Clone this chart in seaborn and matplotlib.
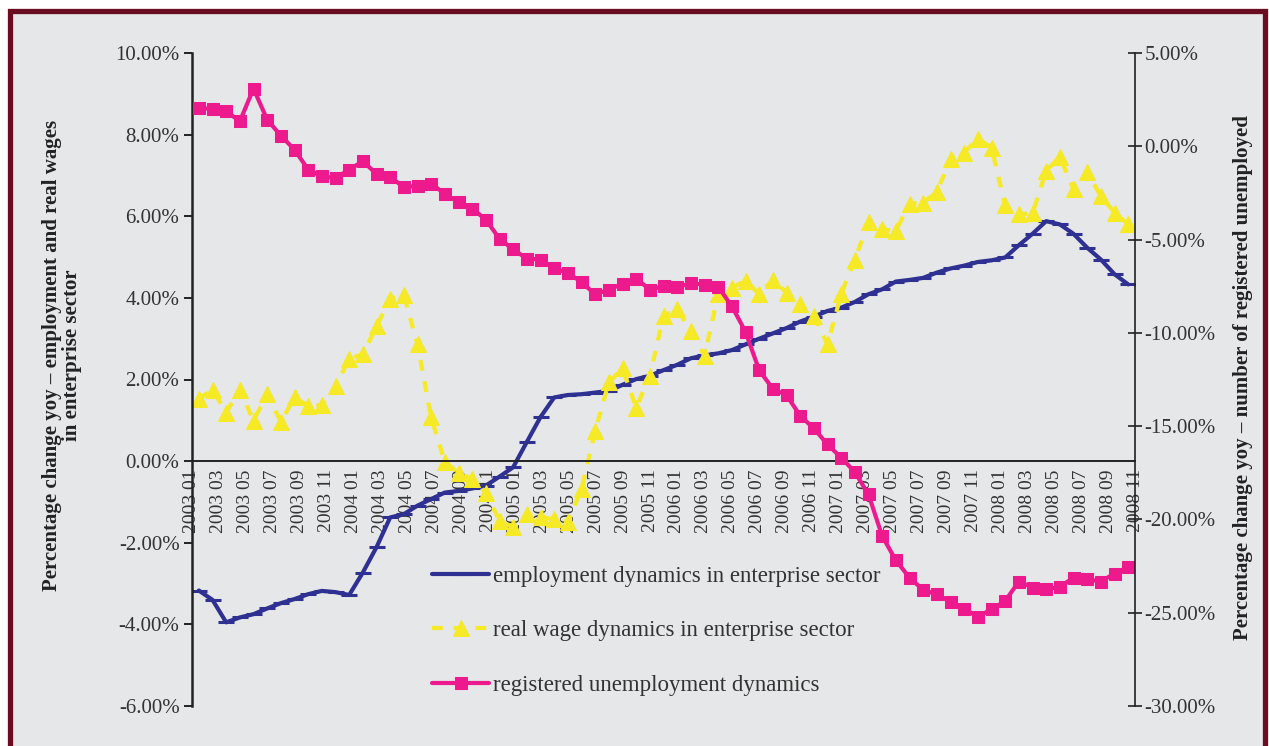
import numpy as np
import pandas as pd
import matplotlib
matplotlib.use("Agg")
import matplotlib.pyplot as plt
from matplotlib.patches import Rectangle
from matplotlib.ticker import FixedLocator, PercentFormatter
import seaborn as sns

# x-axis labels (every second month)
tick_labels = ["2003 01", "2003 03", "2003 05", "2003 07", "2003 09", "2003 11",
               "2004 01", "2004 03", "2004 05", "2004 07", "2004 09", "2004 11",
               "2005 01", "2005 03", "2005 05", "2005 07", "2005 09", "2005 11",
               "2006 01", "2006 03", "2006 05", "2006 07", "2006 09", "2006 11",
               "2007 01", "2007 03", "2007 05", "2007 07", "2007 09", "2007 11",
               "2008 01", "2008 03", "2008 05", "2008 07", "2008 09", "2008 11"]

# employment dynamics in enterprise sector (left axis, %)
employment = [-3.17, -3.40, -3.95, -3.83, -3.75, -3.61, -3.48, -3.38, -3.26, -3.18, -3.21, -3.28,
              -2.73, -2.11, -1.38, -1.30, -1.09, -0.93, -0.77, -0.73, -0.67, -0.60, -0.38, -0.15,
              0.47, 1.08, 1.56, 1.62, 1.64, 1.68, 1.72, 1.87, 2.01, 2.09, 2.23, 2.36,
              2.52, 2.59, 2.64, 2.72, 2.86, 3.00, 3.13, 3.26, 3.42, 3.54, 3.68, 3.76,
              3.90, 4.09, 4.21, 4.40, 4.44, 4.49, 4.62, 4.72, 4.79, 4.88, 4.92, 4.99,
              5.29, 5.57, 5.88, 5.80, 5.57, 5.23, 4.94, 4.58, 4.33]

# real wage dynamics in enterprise sector (left axis, %)
real_wages = [1.53, 1.75, 1.19, 1.75, 0.99, 1.64, 0.96, 1.56, 1.35, 1.37, 1.83, 2.51,
              2.62, 3.30, 3.98, 4.06, 2.86, 1.07, -0.03, -0.28, -0.44, -0.77, -1.46, -1.62,
              -1.30, -1.38, -1.42, -1.49, -0.69, 0.74, 1.93, 2.27, 1.31, 2.09, 3.56, 3.72,
              3.19, 2.58, 4.09, 4.25, 4.42, 4.09, 4.44, 4.13, 3.84, 3.56, 2.86, 4.09,
              4.94, 5.86, 5.68, 5.64, 6.31, 6.33, 6.59, 7.41, 7.56, 7.90, 7.68, 6.27,
              6.05, 6.07, 7.11, 7.46, 6.66, 7.08, 6.49, 6.09, 5.80]

# registered unemployment dynamics (right axis, %)
unemployment = [2.06, 2.00, 1.88, 1.34, 3.09, 1.43, 0.57, -0.18, -1.25, -1.61, -1.70, -1.25,
                -0.80, -1.48, -1.64, -2.19, -2.11, -2.00, -2.55, -3.00, -3.34, -3.93, -4.96, -5.53,
                -6.02, -6.07, -6.52, -6.79, -7.28, -7.94, -7.68, -7.37, -7.09, -7.68, -7.50, -7.55,
                -7.35, -7.41, -7.53, -8.57, -9.94, -12.00, -13.00, -13.34, -14.44, -15.12, -15.98, -16.69,
                -17.46, -18.66, -20.89, -22.19, -23.12, -23.78, -24.01, -24.42, -24.78, -25.21, -24.82, -24.37,
                -23.33, -23.65, -23.74, -23.62, -23.12, -23.21, -23.33, -22.90, -22.55]

n = len(employment)
df = pd.DataFrame({"pos": np.arange(n) + 0.5,
                   "employment": employment,
                   "wages": real_wages,
                   "unemployment": unemployment})

sns.set_style("white")
plt.rcParams["font.family"] = ["Liberation Serif", "DejaVu Serif"]
plt.rcParams["axes.unicode_minus"] = False

W, H = 1269, 746
fig = plt.figure(figsize=(W / 100, H / 100), dpi=100)
fig.patch.set_facecolor("white")

# grey panel with maroon frame
fig.add_artist(Rectangle((9.5 / W, -0.1), (1265 - 9.5) / W, 1.1 - 10.5 / H,
                         transform=fig.transFigure, facecolor="#e6e7e8",
                         edgecolor="#6b0d20", linewidth=3.8, zorder=-10))

ax = fig.add_axes([192 / W, 40 / H, 943 / W, 653 / H])
ax.set_facecolor("none")
ax2 = ax.twinx()
ax2.set_facecolor("none")

blue = "#2e3192"
yellow = "#f6e925"
pink = "#ec1a8c"

sns.lineplot(data=df, x="pos", y="employment", ax=ax, color=blue, linewidth=3,
             marker="_", markersize=12, markeredgewidth=2.2, markeredgecolor=blue,
             label="employment dynamics in enterprise sector")
sns.lineplot(data=df, x="pos", y="wages", ax=ax, color=yellow, linewidth=3,
             linestyle="--", marker="^", markersize=11, markeredgecolor=yellow,
             label="real wage dynamics in enterprise sector")
ax.lines[-1].set_dashes([2.6, 2.6])
sns.lineplot(data=df, x="pos", y="unemployment", ax=ax2, color=pink, linewidth=3,
             marker="s", markersize=8.5, markeredgecolor=pink,
             label="registered unemployment dynamics")

ax.set_xlim(0, n)
ax.set_ylim(-6, 10)
ax2.set_ylim(-30, 5)

# y axes
ax.set_yticks(np.arange(-6, 11, 2))
ax.yaxis.set_major_formatter(PercentFormatter(decimals=2))
ax2.set_yticks(np.arange(-30, 6, 5))
ax2.yaxis.set_major_formatter(PercentFormatter(decimals=2))
ax.tick_params(axis="y", direction="out", length=6, width=1.4, labelsize=15, pad=3)
ax2.tick_params(axis="y", direction="inout", length=10, width=1.2, labelsize=15, pad=2)

# x axis on the zero line
ax.spines["bottom"].set_position(("data", 0))
ax.spines["bottom"].set_linewidth(1.4)
ax.spines["left"].set_linewidth(1.8)
ax.spines["top"].set_visible(False)
ax.spines["right"].set_visible(False)
for s in ["top", "bottom", "left"]:
    ax2.spines[s].set_visible(False)
ax2.spines["right"].set_linewidth(1.2)
for s in ax.spines.values():
    s.set_color("#222222")
ax2.spines["right"].set_color("#222222")

ax.xaxis.set_major_locator(FixedLocator(np.linspace(0, n, len(tick_labels))))
ax.set_xticklabels(tick_labels, rotation=90, fontsize=14, color="#333333")
ax.xaxis.set_minor_locator(FixedLocator(np.arange(0, n + 1)))
ax.tick_params(axis="x", which="major", length=0, pad=6)
ax.tick_params(axis="x", which="minor", length=6, width=1.2, direction="out")
ax.tick_params(axis="y", colors="#222222", labelcolor="#333333")
ax2.tick_params(axis="y", colors="#222222", labelcolor="#333333")
ax.set_xlabel("")
ax.set_ylabel("")
ax2.set_ylabel("")

# axis titles
fig.text(62 / W, 1 - 355 / H,
         "Percentage change yoy \u2013 employment and real wages\nin enterprise sector",
         rotation=90, ha="center", va="center", fontsize=15, fontweight="bold",
         multialignment="center", linespacing=1.0, color="#222222")
fig.text(1243 / W, 1 - 378 / H,
         "Percentage change yoy \u2013 number of registered unemployed",
         rotation=90, ha="center", va="center", fontsize=15, fontweight="bold",
         color="#222222")

# one legend for both axes
h1, l1 = ax.get_legend_handles_labels()
h2, l2 = ax2.get_legend_handles_labels()
ax.get_legend().remove()
ax2.get_legend().remove()
leg = fig.legend(h1 + h2, l1 + l2, loc="upper left",
                 bbox_to_anchor=(432 / W, 1 - 566 / H), frameon=False,
                 fontsize=16.5, handlelength=2.5, handletextpad=0.15,
                 labelspacing=1.45, borderpad=0, borderaxespad=0)
for t in leg.get_texts():
    t.set_color("#333333")

fig.savefig("out.png", dpi=100, facecolor=fig.get_facecolor())
